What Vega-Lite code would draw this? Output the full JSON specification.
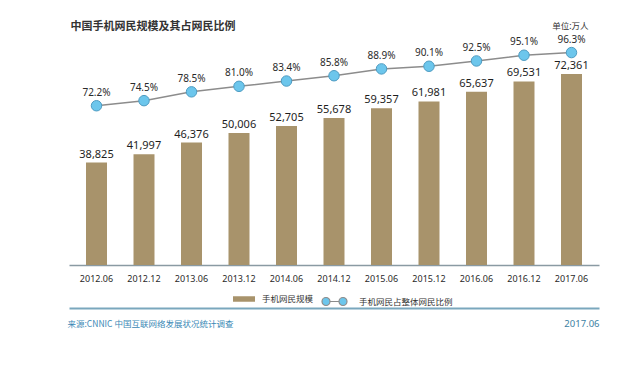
{
  "$schema": "https://vega.github.io/schema/vega-lite/v6.json",
  "autosize": {"type": "none"},
  "width": 530,
  "height": 225,
  "padding": {"left": 69, "top": 40, "right": 41, "bottom": 103},
  "background": "white",
  "config": {
    "view": {"stroke": null},
    "font": "Noto Sans CJK SC",
    "axis": {"grid": false}
  },
  "data": {
    "values": [
      {"period": "2012.06", "users": 38825, "share": 0.722},
      {"period": "2012.12", "users": 41997, "share": 0.745},
      {"period": "2013.06", "users": 46376, "share": 0.785},
      {"period": "2013.12", "users": 50006, "share": 0.810},
      {"period": "2014.06", "users": 52705, "share": 0.834},
      {"period": "2014.12", "users": 55678, "share": 0.858},
      {"period": "2015.06", "users": 59357, "share": 0.889},
      {"period": "2015.12", "users": 61981, "share": 0.901},
      {"period": "2016.06", "users": 65637, "share": 0.925},
      {"period": "2016.12", "users": 69531, "share": 0.951},
      {"period": "2017.06", "users": 72361, "share": 0.963}
    ]
  },
  "layer": [
    {
      "encoding": {
        "x": {
          "field": "period", "type": "nominal", "sort": null,
          "scale": {"type": "band", "paddingInner": 0.558, "paddingOuter": 0.358},
          "axis": {
            "orient": "bottom",
            "labelAngle": 0, "ticks": false, "labelPadding": 9,
            "labelFont": "Noto Sans", "labelFontSize": 9, "labelColor": "#2a2a2a",
            "domainColor": "#8a9aa3", "domainWidth": 1.5,
            "title": "2017.06", "titleFont": "Noto Sans", "titleFontSize": 9.5, "titleFontWeight": "normal",
            "titleColor": "#3d7fa3", "titleAlign": "right", "titleAnchor": null,
            "titleX": 530, "titleY": 61, "titleBaseline": "alphabetic"
          }
        },
        "y": {
          "field": "users", "type": "quantitative",
          "scale": {"domain": [0, 85240], "nice": false, "zero": true},
          "axis": {
            "labels": false, "ticks": false, "domain": false, "grid": false,
            "title": "中国手机网民规模及其占网民比例",
            "titleFont": "Noto Sans CJK SC", "titleFontSize": 11, "titleFontWeight": "bold",
            "titleColor": "#333333", "titleAngle": 0, "titleAlign": "left", "titleBaseline": "alphabetic",
            "titleX": 1, "titleY": -11
          }
        }
      },
      "layer": [
        {
          "mark": {"type": "bar", "fill": "#a8936b"},
          "encoding": {
            "fill": {
              "datum": "手机网民规模", "type": "nominal",
              "scale": {"range": ["#a8936b"]},
              "legend": {
                "orient": "none", "legendX": 164, "legendY": 248,
                "title": null,
                "symbolType": "M-1,-0.25H1V0.25H-1Z", "symbolSize": 484, "symbolStrokeWidth": 0,
                "labelOffset": 7, "labelFont": "Noto Sans CJK SC", "labelFontSize": 8.5, "labelColor": "#333333"
              }
            }
          }
        },
        {
          "mark": {"type": "text", "baseline": "alphabetic", "dy": -5, "font": "Noto Sans", "fontSize": 11, "color": "#1e1e1e"},
          "encoding": {"text": {"field": "users", "type": "quantitative", "format": ","}}
        }
      ]
    },
    {
      "encoding": {
        "x": {
          "field": "period", "type": "nominal", "sort": null,
          "scale": {"type": "point", "padding": 0.579},
          "axis": {
            "orient": "bottom", "offset": 43,
            "labels": false, "ticks": false,
            "domainColor": "#7aa7bd", "domainWidth": 2,
            "title": "来源:CNNIC 中国互联网络发展状况统计调查",
            "titleFont": "Noto Sans CJK SC", "titleFontSize": 8.5, "titleFontWeight": "normal",
            "titleColor": "#3a88b5", "titleAlign": "left", "titleAnchor": null,
            "titleX": -2, "titleY": 18, "titleBaseline": "alphabetic"
          }
        },
        "y": {
          "field": "share", "type": "quantitative",
          "scale": {"domain": [0, 1.02], "nice": false, "zero": true},
          "axis": {
            "orient": "right",
            "labels": false, "ticks": false, "domain": false, "grid": false,
            "title": "单位:万人",
            "titleFont": "Noto Sans CJK SC", "titleFontSize": 8.5, "titleFontWeight": "normal",
            "titleColor": "#333333", "titleAngle": 0, "titleAlign": "right", "titleBaseline": "alphabetic",
            "titleX": -11, "titleY": -12
          }
        }
      },
      "layer": [
        {
          "mark": {"type": "line", "strokeWidth": 1.5},
          "encoding": {
            "stroke": {
              "datum": "手机网民占整体网民比例", "type": "nominal",
              "scale": {"range": ["#8c8c8c"]},
              "legend": {
                "orient": "none", "legendX": 252, "legendY": 248,
                "title": null,
                "symbolType": "M-1,0a0.32,0.32 0 1,0 0.64,0a0.32,0.32 0 1,0 -0.64,0M-0.36,0H0.36M0.36,0a0.32,0.32 0 1,0 0.64,0a0.32,0.32 0 1,0 -0.64,0",
                "symbolSize": 625, "symbolFillColor": "#6cc6ec", "symbolStrokeWidth": 1.2,
                "labelOffset": 11, "labelFont": "Noto Sans CJK SC", "labelFontSize": 8.5, "labelColor": "#333333"
              }
            }
          }
        },
        {
          "mark": {"type": "point", "shape": "circle", "filled": true, "size": 110, "fill": "#6cc6ec", "stroke": "#4f9cc2", "strokeWidth": 1, "opacity": 1}
        },
        {
          "mark": {"type": "text", "baseline": "alphabetic", "dy": -10, "font": "Noto Sans", "fontSize": 10, "color": "#2a2a2a"},
          "encoding": {"text": {"field": "share", "type": "quantitative", "format": ".1%"}}
        }
      ]
    }
  ],
  "resolve": {"scale": {"x": "independent", "y": "independent", "fill": "independent", "stroke": "independent"}}
}
